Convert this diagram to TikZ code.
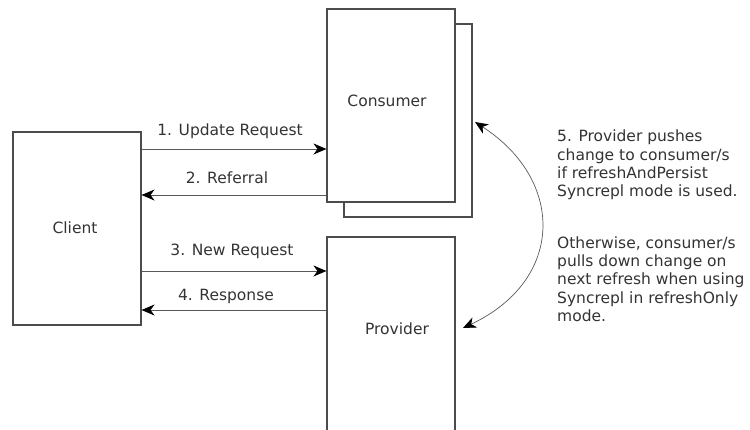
\documentclass[tikz,border=0pt]{standalone}
\usepackage{fontspec}
\setmainfont{DejaVu Sans}
\usetikzlibrary{arrows.meta}
\begin{document}
\begin{tikzpicture}[x=1pt,y=-1pt,
  box/.style={draw=black!70,line width=1.1pt,fill=white,inner sep=0},
  tip/.tip={Stealth[length=13pt,width=11pt,inset=4pt,black]},
  conn/.style={draw=black!65,line width=0.9pt,-tip},
  lab/.style={font=\fontsize{15.5}{18.3}\selectfont,text=black!80,inner sep=0}]
\useasboundingbox (0,0) rectangle (750,429);
% boxes
\node[box,minimum width=128pt,minimum height=193pt] (back) at (408,120.5) {};
\node[box,minimum width=128pt,minimum height=193pt] (cons) at (391,105.5) {};
\node[box,minimum width=128pt,minimum height=193pt] (client) at (77,228.5) {};
\node[box,minimum width=128pt,minimum height=195pt] (prov) at (391,334.5) {};
\node[lab] at (387,101) {Consumer};
\node[lab] at (75,228) {Client};
\node[lab] at (397,329) {Provider};
% arrows
\coordinate (a1s) at (client.east |- 0,149);
\coordinate (a1e) at (cons.west |- 0,149);
\draw[conn] (a1s) -- (a1e);
\node[lab] (l1) at (230,131) {1. Update Request};
\coordinate (a2s) at (cons.west |- 0,195);
\coordinate (a2e) at (client.east |- 0,195);
\draw[conn] (a2s) -- (a2e);
\node[lab] (l2) at (227,178) {2. Referral};
\coordinate (a3s) at (client.east |- 0,271);
\coordinate (a3e) at (prov.west |- 0,271);
\draw[conn] (a3s) -- (a3e);
\node[lab] (l3) at (232,251) {3. New Request};
\coordinate (a4s) at (prov.west |- 0,310);
\coordinate (a4e) at (client.east |- 0,310);
\draw[conn] (a4s) -- (a4e);
\node[lab] (l4) at (226,296) {4. Response};
% curved arrow
\coordinate (c1) at (475,122);
\coordinate (c2) at (463,328);
\draw[conn,tip-tip,line width=0.7pt] (c1) .. controls (565,180) and (565,280) .. (c2);
% text
\node[lab,anchor=north west,align=left] (txt) at (557,130) {5. Provider pushes\\change to consumer/s\\if refreshAndPersist\\Syncrepl mode is used.\\[33pt]Otherwise, consumer/s\\pulls down change on\\next refresh when using\\Syncrepl in refreshOnly\\mode.};
\end{tikzpicture}
\end{document}
